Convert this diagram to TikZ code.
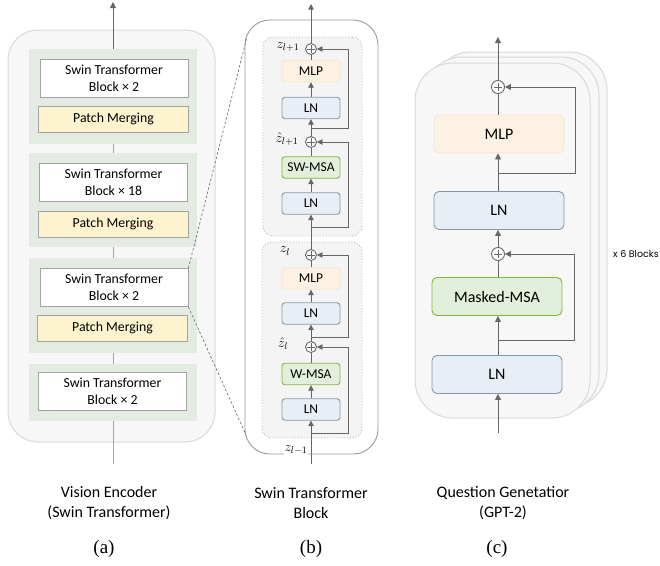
\RequirePackage{fix-cm}
\documentclass[tikz,border=0pt]{standalone}
\usepackage{fontspec}
\setmainfont{Carlito}
\newfontfamily\serifcap{Liberation Serif}
\newfontfamily\blockfont{Poppins}
\usetikzlibrary{arrows.meta}

\definecolor{panelfill}{HTML}{F7F7F7}
\definecolor{panelline}{HTML}{D9D9D9}
\definecolor{groupfill}{HTML}{E3EBE3}
\definecolor{boxline}{HTML}{A3A3A3}
\definecolor{mergefill}{HTML}{FDF4CF}
\definecolor{lnfill}{HTML}{E8EEF6}
\definecolor{lnline}{HTML}{8797A3}
\definecolor{mlpfill}{HTML}{FDF1E3}
\definecolor{mlpline}{HTML}{F7E5CF}
\definecolor{msafill}{HTML}{E2EFDA}
\definecolor{msaline}{HTML}{80B83E}
\definecolor{wirecol}{HTML}{666666}
\definecolor{dotfill}{HTML}{F4F4F4}
\definecolor{dotline}{HTML}{B8B8B8}
\definecolor{outerline}{HTML}{9A9A9A}

\tikzset{
  panel/.style={draw=panelline, fill=panelfill, line width=1pt},
  grp/.style={fill=groupfill, draw=none, inner sep=0pt},
  swinbox/.style={draw=boxline, fill=white, line width=0.8pt, align=center,
    minimum width=148pt, minimum height=38pt, inner sep=0pt,
    font=\fontsize{13.8}{17}\selectfont},
  mergebox/.style={draw=boxline, fill=mergefill, line width=0.8pt,
    minimum width=150pt, minimum height=26pt, inner sep=0pt,
    font=\fontsize{13.8}{17}\selectfont},
  smallbox/.style={rounded corners=3pt, line width=0.9pt, minimum width=58pt,
    minimum height=21.5pt, inner sep=0pt, font=\fontsize{13.5}{16}\selectfont},
  bigbox/.style={rounded corners=5pt, line width=0.9pt, minimum width=130pt,
    minimum height=38pt, inner sep=0pt, font=\fontsize{16}{19}\selectfont},
  lnstyle/.style={draw=lnline, fill=lnfill},
  mlpstyle/.style={draw=mlpline, fill=mlpfill},
  msastyle/.style={draw=msaline, fill=msafill},
  sumnode/.style={circle, draw=wirecol, fill=white, line width=0.9pt,
    inner sep=0pt, minimum size=#1,
    path picture={
      \draw[wirecol, line width=0.8pt]
        ([xshift=-0.32*#1]path picture bounding box.center) --
        ([xshift=0.32*#1]path picture bounding box.center)
        ([yshift=-0.32*#1]path picture bounding box.center) --
        ([yshift=0.32*#1]path picture bounding box.center);}},
  wire/.style={draw=wirecol, line width=0.9pt},
  arr/.style={wire, -{Triangle[length=6pt,width=6pt]}},
  arrs/.style={wire, -{Triangle[length=5.5pt,width=5.5pt]}},
  thinwire/.style={draw=boxline, line width=0.8pt},
  zoomline/.style={draw=wirecol, line width=0.6pt, dash pattern=on 2.5pt off 2pt},
  lbl/.style={align=center, font=\fontsize{16}{20}\selectfont},
  subcap/.style={font=\serifcap\fontsize{19}{22}\selectfont},
  mathlbl/.style={font=\fontsize{14}{16}\selectfont, inner sep=0pt}
}

\begin{document}
\begin{tikzpicture}[x=1pt,y=-1pt]
\useasboundingbox (0,0) rectangle (660,565);

% ---------------- (a) vision encoder ----------------
\node[panel, rounded corners=30pt, minimum width=207pt, minimum height=412pt] (encA) at (111.5,236) {};
\node[grp, minimum width=168pt, minimum height=95pt] (g1) at (113,96.5) {};
\node[grp, minimum width=168pt, minimum height=94pt] (g2) at (113,200) {};
\node[grp, minimum width=168pt, minimum height=95pt] (g3) at (113,305.5) {};
\node[grp, minimum width=168pt, minimum height=57pt] (g4) at (113,392.5) {};

\node[swinbox] (w1) at (114,78.5) {Swin Transformer\\Block × 2};
\node[mergebox] (p1) at (113.5,119) {Patch Merging};
\node[swinbox] (w2) at (113.5,182) {Swin Transformer\\Block × 18};
\node[mergebox] (p2) at (113,224) {Patch Merging};
\node[swinbox] (w3) at (114,287.5) {Swin Transformer\\Block × 2};
\node[mergebox] (p3) at (112.5,328) {Patch Merging};
\node[swinbox] (w4) at (112.5,391) {Swin Transformer\\Block × 2};

\coordinate (outA) at (113,2);
\coordinate (inA) at (113,464);
\draw[arr] (g1.north) -- (outA);
\draw[thinwire] (g1.south) -- (g2.north);
\draw[thinwire] (g2.south) -- (g3.north);
\draw[thinwire] (g3.south) -- (g4.north);
\draw[thinwire] (inA) -- (g4.south);

% ---------------- (b) swin transformer block ----------------
\node[draw=outerline, fill=white, line width=0.9pt, rounded corners=25pt,
  minimum width=133pt, minimum height=434pt] (blkB) at (311.5,237) {};
\node[draw=dotline, fill=dotfill, dotted, line width=0.9pt, rounded corners=10pt,
  minimum width=99pt, minimum height=199pt] (inner1) at (312.5,136.5) {};
\node[draw=dotline, fill=dotfill, dotted, line width=0.9pt, rounded corners=10pt,
  minimum width=100pt, minimum height=196pt] (inner2) at (312,340) {};

\coordinate (zt) at (247,37);
\coordinate (zb) at (246,435);
\draw[zoomline] (w3.north east) -- (zt);
\draw[zoomline] (w3.south east) -- (zb);

\node[sumnode=11pt] (s1) at (311,49) {};
\node[smallbox, mlpstyle] (mlp1) at (311,71) {MLP};
\node[smallbox, lnstyle] (ln1) at (311,108) {LN};
\node[sumnode=11pt] (s2) at (311,142) {};
\node[smallbox, msastyle] (sw) at (311,167.5) {SW-MSA};
\node[smallbox, lnstyle] (ln2) at (311,203.5) {LN};
\node[sumnode=11pt] (s3) at (311,255) {};
\node[smallbox, mlpstyle] (mlp2) at (311,278.5) {MLP};
\node[smallbox, lnstyle] (ln3) at (311,313.5) {LN};
\node[sumnode=11pt] (s4) at (311,347) {};
\node[smallbox, msastyle] (wm) at (311,374) {W-MSA};
\node[smallbox, lnstyle] (ln4) at (311,409.5) {LN};

\node[mathlbl] (lz1) at (288,47) {$z_{l+1}$};
\node[mathlbl] (lz2) at (287,139) {$\hat{z}_{l+1}$};
\node[mathlbl] (lz3) at (285,251) {$z_{l}$};
\node[mathlbl] (lz4) at (283,344) {$\hat{z}_{l}$};
\node[mathlbl, fill=white, inner sep=1pt] (lz5) at (296,450) {$z_{l-1}$};

\coordinate (outB) at (311,4);
\coordinate (inB) at (311,464);
\coordinate (b1) at (311,128);
\coordinate (b2) at (311,227);
\coordinate (b3) at (311,337);
\coordinate (b4) at (311,433);

\draw[arrs] (s1) -- (outB);
\draw[wire] (mlp1) -- (s1);
\draw[arrs] (ln1) -- (mlp1);
\draw[arrs] (s2) -- (ln1);
\draw[wire] (sw) -- (s2);
\draw[arrs] (ln2) -- (sw);
\draw[arrs] (s3) -- (ln2);
\draw[wire] (mlp2) -- (s3);
\draw[arrs] (ln3) -- (mlp2);
\draw[arrs] (s4) -- (ln3);
\draw[wire] (wm) -- (s4);
\draw[arrs] (ln4) -- (wm);
\draw[arrs] (inB) -- (ln4);

\draw[arrs] (b1) -- ++(37,0) |- (s1.east);
\draw[arrs] (b2) -- ++(37,0) |- (s2.east);
\draw[arrs] (b3) -- ++(37,0) |- (s3.east);
\draw[arrs] (b4) -- ++(37,0) |- (s4.east);

% ---------------- (c) GPT-2 decoder ----------------
\node[panel, rounded corners=38pt, minimum width=174pt, minimum height=355pt] (st3) at (520,229.5) {};
\node[panel, rounded corners=38pt, minimum width=175pt, minimum height=355pt] (st2) at (511.5,234.5) {};
\node[panel, rounded corners=38pt, minimum width=175pt, minimum height=355pt] (st1) at (502.5,240.5) {};

\node[sumnode=13pt] (c1) at (498,87) {};
\node[bigbox, mlpstyle] (mlpc) at (499,134) {MLP};
\node[bigbox, lnstyle] (lnc1) at (499,210.5) {LN};
\node[sumnode=13pt] (c2) at (498,254) {};
\node[bigbox, msastyle] (msac) at (497,296.5) {Masked-MSA};
\node[bigbox, lnstyle] (lnc2) at (497,374.5) {LN};

\coordinate (outC) at (498,37);
\coordinate (inC) at (498,433);
\coordinate (bc1) at (498,173);
\coordinate (bc2) at (498,340);

\draw[arr] (c1) -- (outC);
\draw[wire] (mlpc.north -| c1) -- (c1);
\draw[arr] (lnc1.north -| c1) -- (mlpc.south -| c1);
\draw[arr] (c2) -- (lnc1.south -| c2);
\draw[wire] (msac.north -| c2) -- (c2);
\draw[arr] (lnc2.north -| c2) -- (msac.south -| c2);
\draw[arr] (inC) -- (lnc2.south -| inC);
\draw[arr] (bc1) -- ++(77,0) |- (c1.east);
\draw[arr] (bc2) -- ++(76,0) |- (c2.east);

\node[anchor=west, inner sep=0pt, font=\blockfont\fontsize{9.5}{11}\selectfont] (rep) at (613,254) {x 6 Blocks};

% ---------------- captions ----------------
\node[lbl] (ta) at (109,503) {Vision Encoder\\(Swin Transformer)};
\node[lbl] (tb) at (311,503) {Swin Transformer\\Block};
\node[lbl] (tc) at (503,503) {Question Genetatior\\(GPT-2)};
\node[subcap] (ca) at (104,549) {(a)};
\node[subcap] (cb) at (311,549) {(b)};
\node[subcap] (cc) at (497,549) {(c)};
\end{tikzpicture}
\end{document}
